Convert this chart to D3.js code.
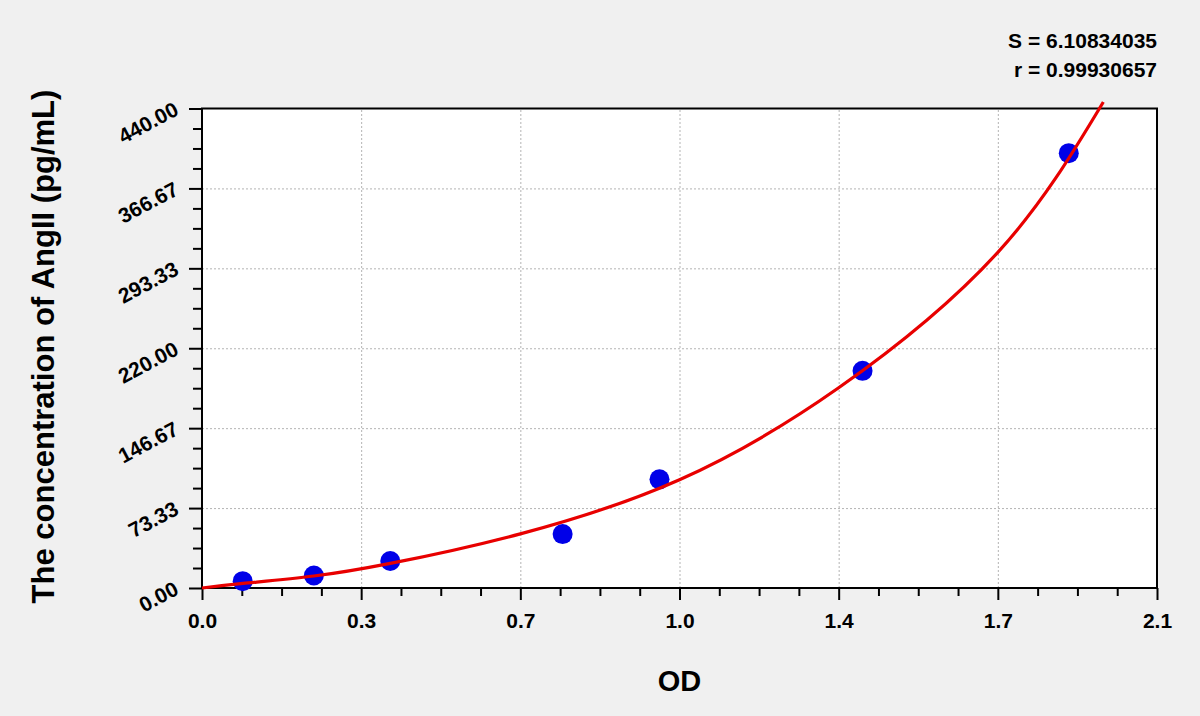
<!DOCTYPE html>
<html><head><meta charset="utf-8">
<script src="https://cdn.jsdelivr.net/npm/d3@7"></script>
<style>
html,body{margin:0;padding:0;background:#f0f0f0;}
svg{display:block;font-family:"Liberation Sans",Arial,sans-serif;}
</style></head>
<body>
<svg id="chart" width="1200" height="716"></svg>
<script>
// Data
const pointOD   = [0.0895, 0.246, 0.414, 0.793, 1.006, 1.4525, 1.906];
const pointConc = [6.3, 11.5, 24.8, 49.5, 99.7, 199.3, 399];
const curveOD   = [0, 0.09, 0.246, 0.414, 0.7, 1.05, 1.4, 1.75, 1.982];
const curveConc = [0, 4.2, 11, 22.6, 49.7, 99.4, 183.7, 308, 446];
const xTickValues = [0, 0.35, 0.7, 1.05, 1.4, 1.75, 2.1];
const xTickLabels = ["0.0", "0.3", "0.7", "1.0", "1.4", "1.7", "2.1"];
const yTickValues = [0, 73.33, 146.67, 220, 293.33, 366.67, 440];
const yTickLabels = ["0.00", "73.33", "146.67", "220.00", "293.33", "366.67", "440.00"];
const statLines = ["S = 6.10834035", "r = 0.99930657"];
const xTitle = "OD";
const yTitle = "The concentration of AngII (pg/mL)";

const svg = d3.select("#chart");
const L = 202, R = 1157, T = 108.5, B = 588;
const x = d3.scaleLinear().domain([0, 2.1]).range([L, R]);
const y = d3.scaleLinear().domain([0, 440]).range([B, T]);

// plot background
svg.append("rect").attr("x", L).attr("y", T).attr("width", R - L).attr("height", B - T).attr("fill", "#fff");

// grid
const gx = svg.append("g").attr("transform", `translate(0,${B})`)
  .call(d3.axisBottom(x).tickValues(xTickValues.slice(1, -1)).tickSize(-(B - T)).tickFormat(""));
const gy = svg.append("g").attr("transform", `translate(${L},0)`)
  .call(d3.axisLeft(y).tickValues(yTickValues.slice(1, -1)).tickSize(-(R - L)).tickFormat(""));
[gx, gy].forEach(g => {
  g.select(".domain").remove();
  g.selectAll("line").attr("stroke", "#b4b4b4").attr("stroke-width", 1).attr("stroke-dasharray", "2,2");
});

// minor ticks
const xMinor = d3.range(0, 25).map(i => i * 0.0875).filter((v, i) => i % 4 !== 0);
const yMinor = d3.range(0, 25).map(i => i * 440 / 24).filter((v, i) => i % 4 !== 0);
const mx = svg.append("g").attr("transform", `translate(0,${B})`)
  .call(d3.axisBottom(x).tickValues(xMinor).tickSize(8).tickFormat(""));
const my = svg.append("g").attr("transform", `translate(${L},0)`)
  .call(d3.axisLeft(y).tickValues(yMinor).tickSize(9).tickFormat(""));
[mx, my].forEach(g => {
  g.select(".domain").remove();
  g.selectAll("line").attr("stroke", "#000").attr("stroke-width", 2);
});

// major axes
const ax = svg.append("g").attr("transform", `translate(0,${B})`)
  .call(d3.axisBottom(x).tickValues(xTickValues).tickSize(12).tickFormat((d, i) => xTickLabels[i]));
ax.select(".domain").remove();
ax.selectAll("line").attr("stroke", "#000").attr("stroke-width", 2);
ax.selectAll("text").attr("y", 25).attr("dy", "0.72em").attr("font-size", 21).attr("font-weight", "bold")
  .attr("fill", "#000").attr("font-family", "'Liberation Sans',Arial,sans-serif");

const ay = svg.append("g").attr("transform", `translate(${L},0)`)
  .call(d3.axisLeft(y).tickValues(yTickValues).tickSize(13).tickFormat((d, i) => yTickLabels[i]));
ay.select(".domain").remove();
ay.selectAll("line").attr("stroke", "#000").attr("stroke-width", 2);
ay.selectAll("text")
  .attr("x", null).attr("dy", null)
  .attr("text-anchor", "end")
  .attr("transform", "translate(-22,5) rotate(-28)")
  .attr("font-size", 21).attr("font-weight", "bold").attr("fill", "#000")
  .attr("font-family", "'Liberation Sans',Arial,sans-serif");

// frame
svg.append("rect").attr("x", L).attr("y", T).attr("width", R - L).attr("height", B - T)
  .attr("fill", "none").attr("stroke", "#000").attr("stroke-width", 2);

// points
const pts = pointOD.map((d, i) => [d, pointConc[i]]);
svg.append("g").selectAll("circle").data(pts).join("circle")
  .attr("cx", d => x(d[0])).attr("cy", d => y(d[1])).attr("r", 10).attr("fill", "#0000e8");

// fitted curve (drawn on top of points as in the reference)
const curveData = curveOD.map((d, i) => [d, curveConc[i]]);
svg.append("path").datum(curveData)
  .attr("d", d3.line().x(d => x(d[0])).y(d => y(d[1])).curve(d3.curveNatural))
  .attr("fill", "none").attr("stroke", "#e80000").attr("stroke-width", 3.2);

// titles
svg.append("text").attr("x", (L + R) / 2).attr("y", 691).attr("text-anchor", "middle")
  .attr("font-size", 29).attr("font-weight", "bold").attr("fill", "#000").text(xTitle);
svg.append("text").attr("transform", `translate(54,${(88 + 605) / 2}) rotate(-90)`).attr("text-anchor", "middle")
  .attr("font-size", 31).attr("font-weight", "bold").attr("fill", "#000").text(yTitle);

// stats
svg.append("g").selectAll("text").data(statLines).join("text")
  .attr("x", 1157).attr("y", (d, i) => 48 + i * 29).attr("text-anchor", "end")
  .attr("font-size", 21).attr("font-weight", "bold").attr("fill", "#000").text(d => d);
</script>
</body></html>
